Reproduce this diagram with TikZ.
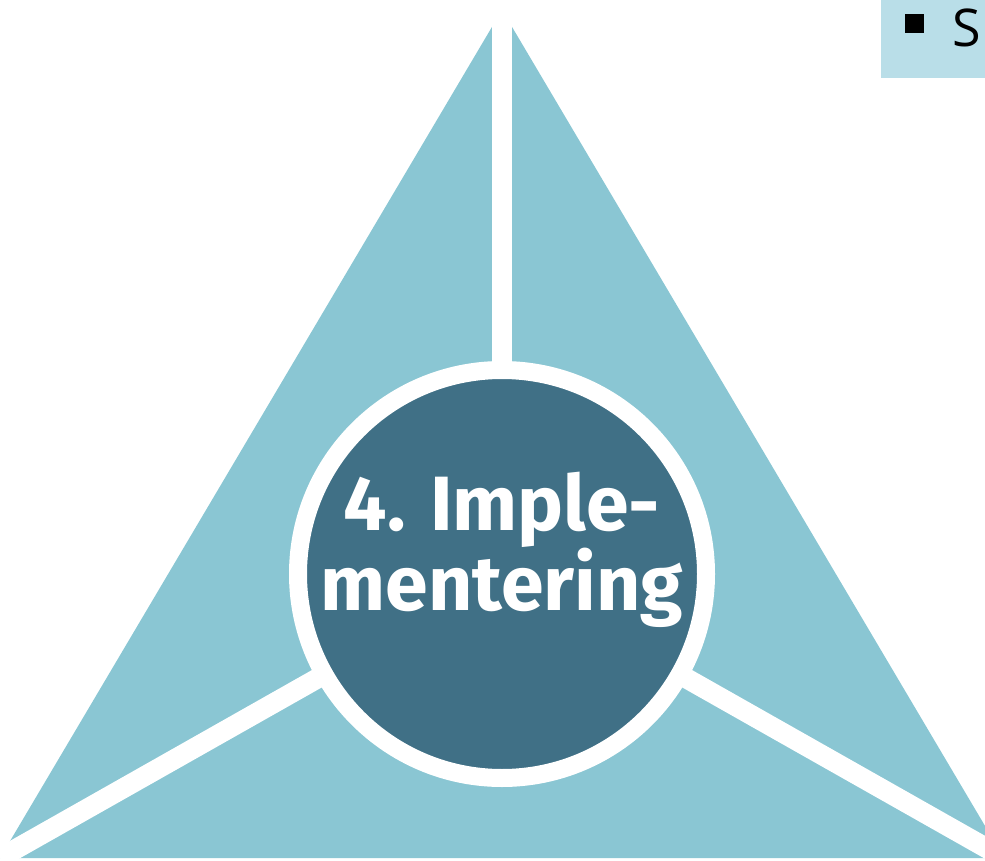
\documentclass[tikz,border=0pt]{standalone}
\usepackage{fontspec}
\setsansfont{Fira Sans}
\newfontfamily\boxfont{Open Sans}
\usetikzlibrary{positioning}
\definecolor{lightteal}{RGB}{138,198,211}
\definecolor{darkteal}{RGB}{64,112,134}
\definecolor{boxblue}{RGB}{185,222,232}

\begin{document}
\begin{tikzpicture}[x=1pt,y=-1pt,
    divider/.style={white, line width=20pt},
    ]
    \useasboundingbox (0,0) rectangle (985,861);
    \clip (0,0) rectangle (985,861);

    \coordinate (T) at (502,10);
    \coordinate (L) at (0,858);
    \coordinate (R) at (1004,858);
    \coordinate (M) at (502,574);

    \fill[lightteal] (T) -- (L) -- (R) -- cycle;

    \draw[divider] (M) -- ([yshift=20pt]T);
    \draw[divider] (M) -- (L);
    \draw[divider] (M) -- (R);

    \node[circle, fill=darkteal, draw=white, line width=18pt, minimum size=408pt, inner sep=0pt] (impl) at (M) {};
    \node[white, font=\sffamily\bfseries\fontsize{77}{80}\selectfont, align=center, inner sep=0pt] (impltext) at ([yshift=24pt]impl.center) {4. Imple-\\mentering};

    \fill[boxblue] (881,0) rectangle (985,78);
    \node[fill=black, minimum size=19pt, inner sep=0pt] (bullet) at (914.5,24) {};
    \node[font=\boxfont\fontsize{52}{56}\selectfont, inner sep=0pt, right=28pt of bullet, yshift=-4pt] (s) {S};

\end{tikzpicture}
\end{document}
